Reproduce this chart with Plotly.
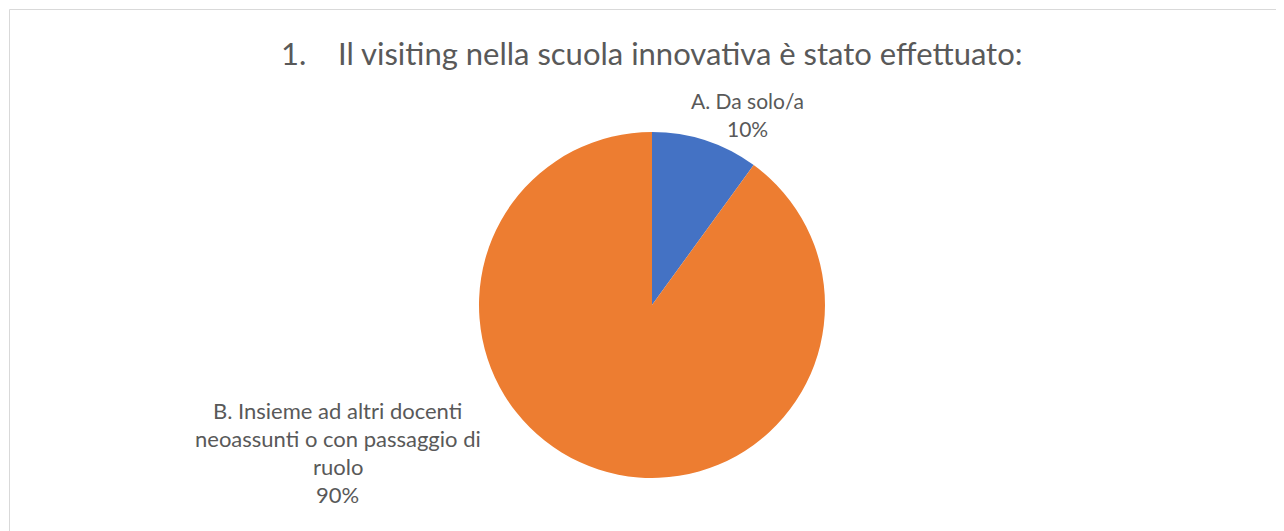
import plotly.graph_objects as go

title = "1.&nbsp;&nbsp;&nbsp;&nbsp;Il visiting nella scuola innovativa è stato effettuato:"
categories = ["A. Da solo/a", "B. Insieme ad altri docenti neoassunti o con passaggio di ruolo"]
label_lines = [["A. Da solo/a"], ["B. Insieme ad altri docenti", "neoassunti o con passaggio di", "ruolo"]]
values = [10, 90]
colors = ["#4472C4", "#ED7D31"]

W, H = 1284, 531
OFF = 8  # page body margin
cx, cy, r = 652 - OFF, 305 - OFF, 173

fig = go.Figure(go.Pie(
    labels=categories, values=values, sort=False, direction="clockwise", rotation=0,
    marker=dict(colors=colors, line=dict(width=0)),
    textinfo="none", hoverinfo="label+percent", showlegend=False,
    domain=dict(x=[(cx - r) / W, (cx + r) / W], y=[(H - (cy + r)) / H, (H - (cy - r)) / H]),
))

total = sum(values)
label_pos = [(748 - OFF, 114 - OFF), (338 - OFF, 452 - OFF)]
label_sizes = [21, 22]
line_h = 28
annotations = []
for lines, v, (lx, ly), fs in zip(label_lines, values, label_pos, label_sizes):
    all_lines = lines + [f"{round(100 * v / total)}%"]
    n = len(all_lines)
    for i, t in enumerate(all_lines):
        py = ly + (i - (n - 1) / 2) * line_h
        annotations.append(dict(text=t, x=lx / W, y=1 - py / H, xref="paper", yref="paper",
                                showarrow=False, xanchor="center", yanchor="middle",
                                font=dict(family="Lato, 'Open Sans', sans-serif", size=fs, color="#595959")))
annotations.append(dict(text=title, x=(651 - OFF) / W, y=1 - (53 - OFF) / H, xref="paper", yref="paper",
                        showarrow=False, xanchor="center", yanchor="middle",
                        font=dict(family="Lato, 'Open Sans', sans-serif", size=31, color="#595959")))

fig.update_layout(
    width=W, height=H, margin=dict(l=0, r=0, t=0, b=0),
    paper_bgcolor="white", plot_bgcolor="white",
    annotations=annotations,
    shapes=[dict(type="rect", xref="paper", yref="paper", x0=(9.5 - OFF) / W, x1=1.01, y0=-0.02,
                 y1=1 - (9.5 - OFF) / H,
                 line=dict(color="#D9D9D9", width=1), fillcolor="rgba(0,0,0,0)")],
)
fig.write_html("out.html")
